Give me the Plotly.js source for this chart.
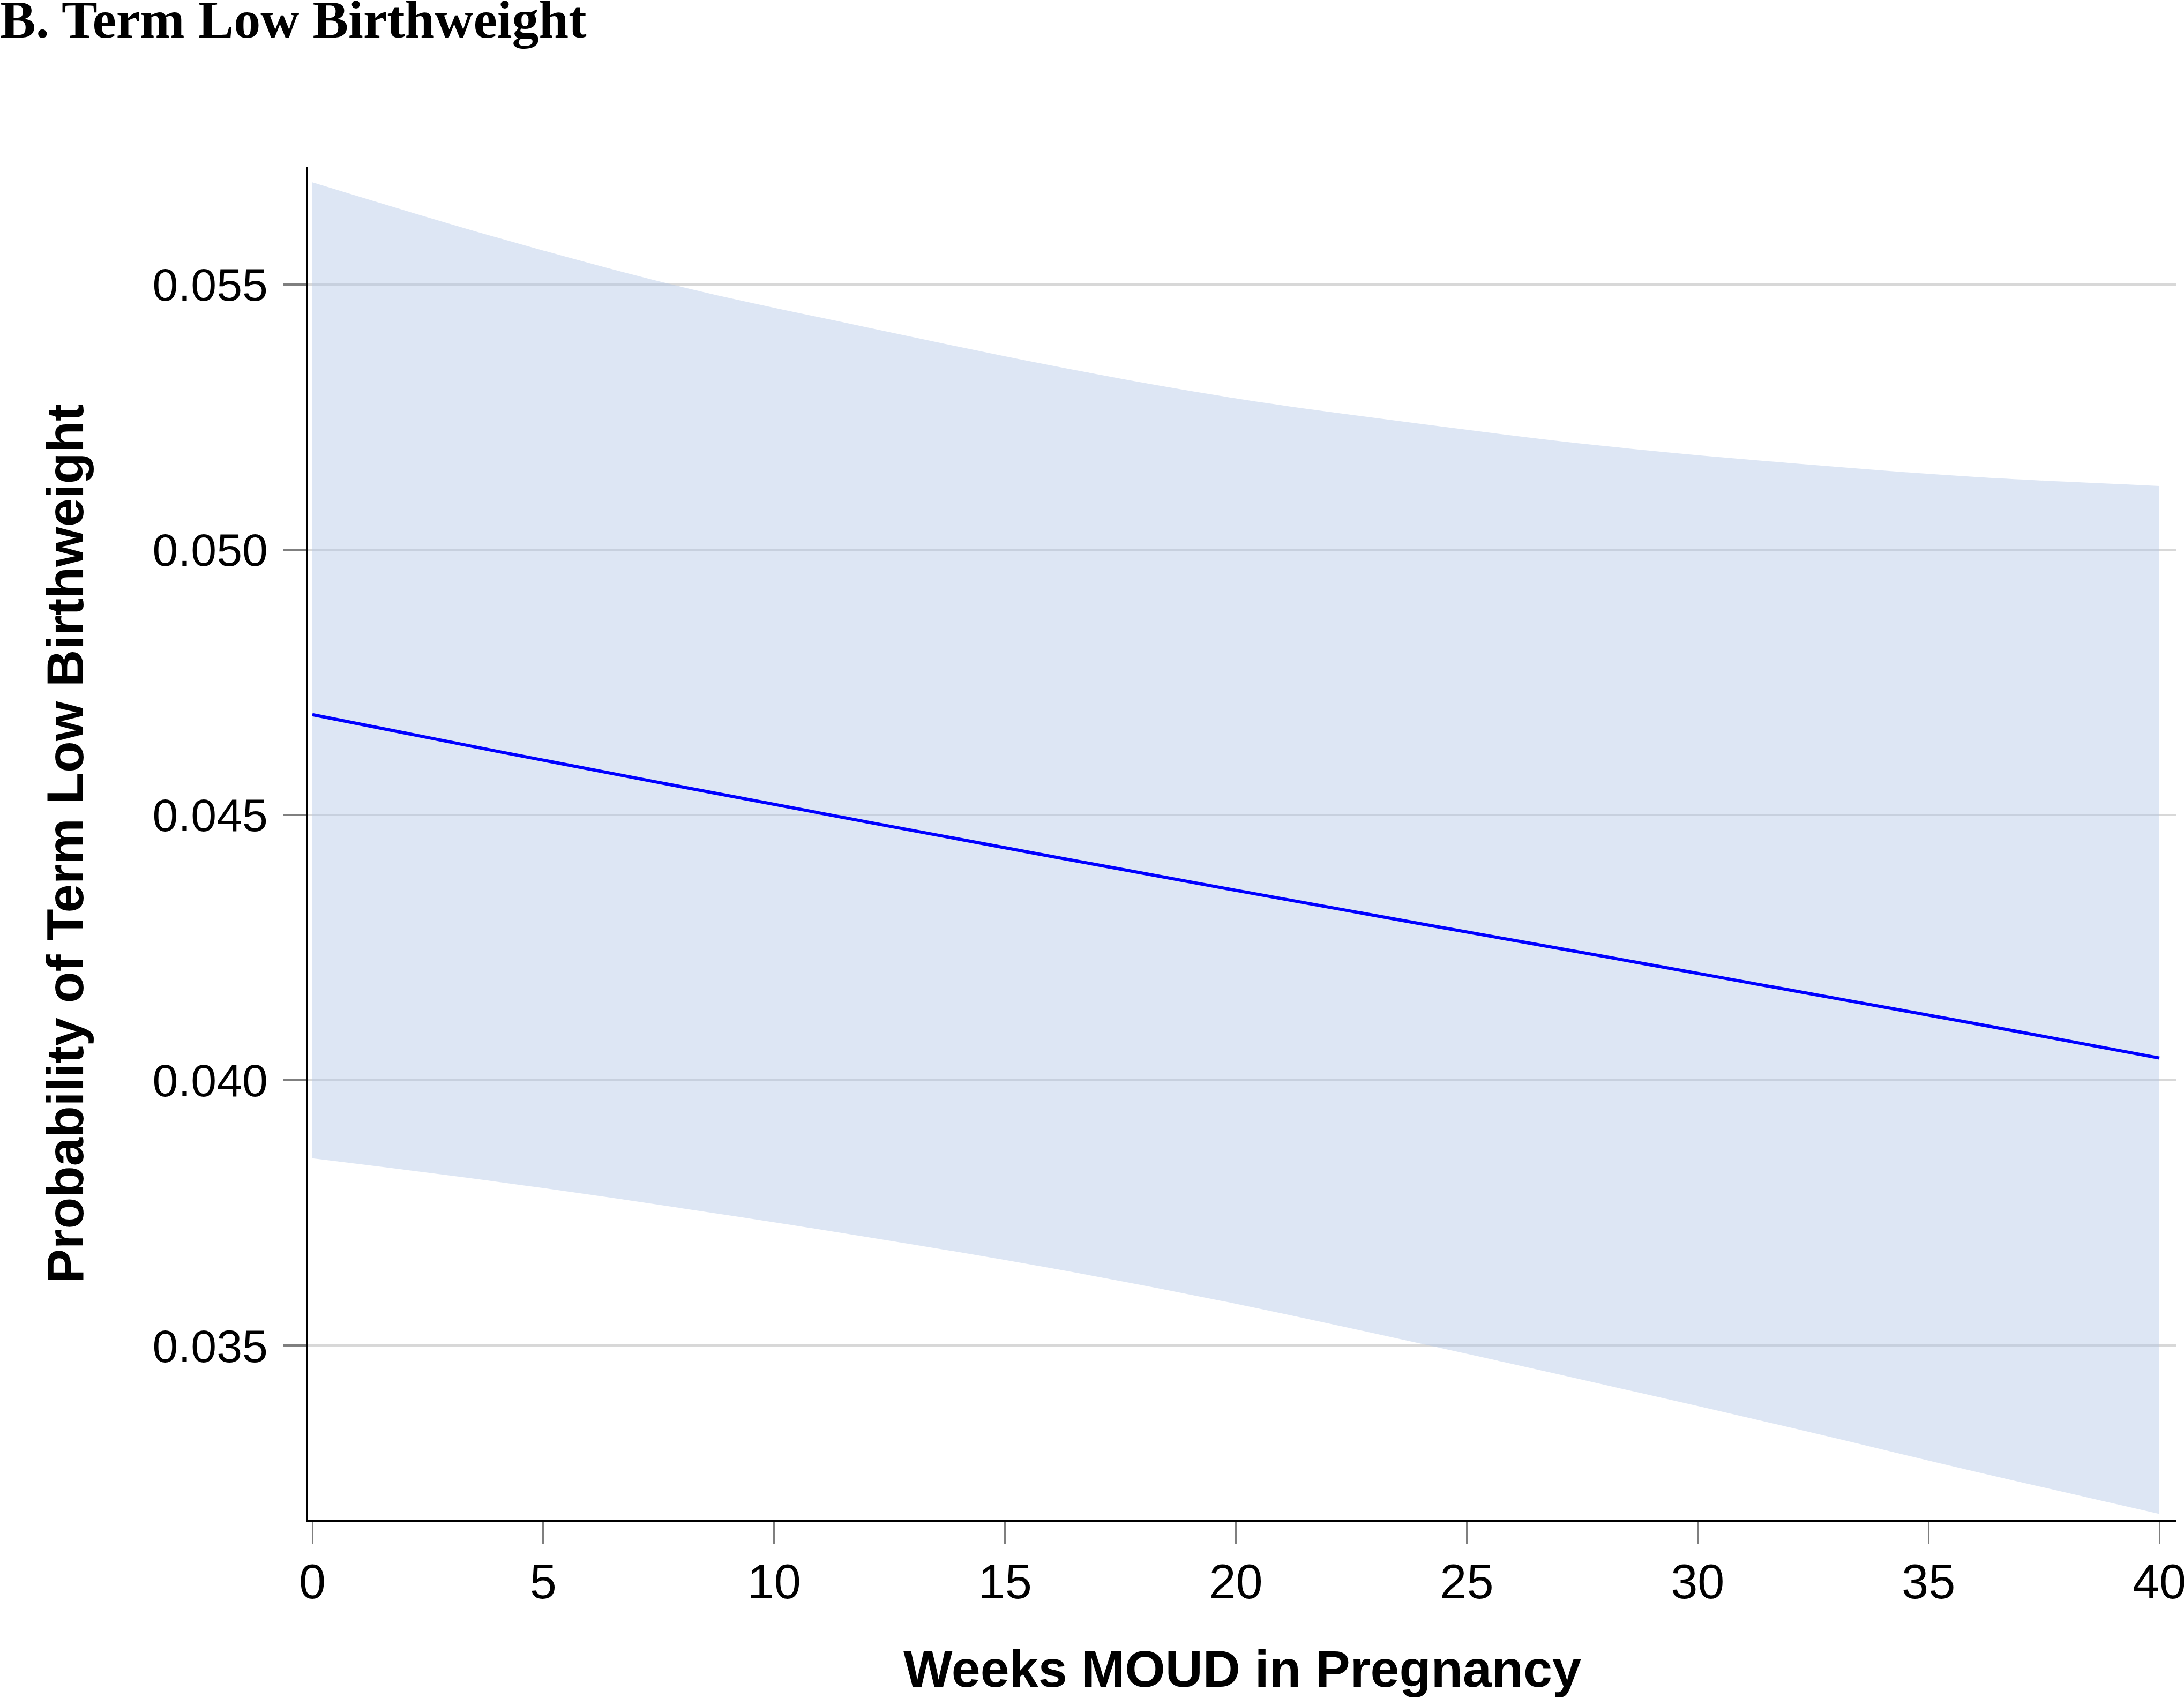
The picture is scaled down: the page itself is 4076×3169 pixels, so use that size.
<!DOCTYPE html>
<html>
<head>
<meta charset="utf-8">
<script src="https://cdn.plot.ly/plotly-3.0.1.min.js"></script>
<style>
  html, body { margin: 0; padding: 0; background: #ffffff; }
  #chart { width: 4076px; height: 3169px; }
</style>
</head>
<body>
<div id="chart"></div>
<script>
// Weeks of MOUD in pregnancy (x) and predicted probability with 95% CI
const weeks      = [0, 4, 8, 12, 16, 20, 24, 28, 32, 36, 40];
const predicted  = [0.04689, 0.04620, 0.04553, 0.04487, 0.04422, 0.04358, 0.04295, 0.04233, 0.04170, 0.04107, 0.04042];
const upperCI    = [0.05692, 0.05588, 0.05495, 0.05419, 0.05347, 0.05285, 0.05237, 0.05195, 0.05163, 0.05137, 0.05120];
const lowerCI    = [0.03853, 0.03809, 0.03759, 0.03705, 0.03646, 0.03579, 0.03504, 0.03426, 0.03346, 0.03263, 0.03183];

const yTicks = [0.035, 0.040, 0.045, 0.050, 0.055];
const yTickLabels = ["0.035", "0.040", "0.045", "0.050", "0.055"];
const xTicks = [0, 5, 10, 15, 20, 25, 30, 35, 40];
const xTickLabels = ["0", "5", "10", "15", "20", "25", "30", "35", "40"];

const sans = "Liberation Sans, Arial, Helvetica, sans-serif";

const traces = [
  {
    x: weeks, y: lowerCI, type: "scatter", mode: "lines",
    line: { width: 0, shape: "spline", color: "rgba(0,0,0,0)" },
    showlegend: false, hoverinfo: "skip"
  },
  {
    x: weeks, y: upperCI, type: "scatter", mode: "lines",
    fill: "tonexty", fillcolor: "rgba(180,200,230,0.45)",
    line: { width: 0, shape: "spline", color: "rgba(0,0,0,0)" },
    showlegend: false, hoverinfo: "skip"
  },
  {
    x: weeks, y: predicted, type: "scatter", mode: "lines",
    line: { width: 6, color: "#0000FF", shape: "spline" },
    showlegend: false
  }
];

const layout = {
  width: 4076, height: 3169,
  paper_bgcolor: "#ffffff", plot_bgcolor: "#ffffff",
  margin: { l: 575, r: 14, t: 312, b: 332, pad: 0 },
  showlegend: false,
  title: {
    text: "<b>B. Term Low Birthweight</b>",
    font: { family: "Liberation Serif, Times New Roman, serif", size: 100, color: "#000000" },
    xref: "container", x: 0, xanchor: "left",
    yref: "container", y: 1, yanchor: "top",
    pad: { t: 0, l: 0, b: 0, r: 0 }
  },
  xaxis: {
    range: [-0.093, 40.371],
    tickvals: xTicks, ticktext: xTickLabels,
    ticks: "outside", ticklen: 40, tickwidth: 3, tickcolor: "#7f7f7f",
    showline: true, linecolor: "#000000", linewidth: 4,
    showgrid: false, zeroline: false,
    tickfont: { family: sans, size: 90, color: "#000000" },
    ticklabelstandoff: -6,
    ticklabeloverflow: "allow",
    title: {
      text: "<b>Weeks MOUD in Pregnancy</b>",
      font: { family: sans, size: 97, color: "#000000" },
      standoff: 96
    }
  },
  yaxis: {
    range: [0.031713, 0.057206],
    tickvals: yTicks, ticktext: yTickLabels,
    ticks: "outside", ticklen: 43, tickwidth: 4, tickcolor: "#7f7f7f",
    showline: true, linecolor: "#000000", linewidth: 3,
    showgrid: true, gridcolor: "#d8d8d8", gridwidth: 4,
    zeroline: false,
    tickfont: { family: sans, size: 86, color: "#000000" },
    ticklabelstandoff: 12,
    title: {
      text: "<b>Probability of Term Low Birthweight</b>",
      font: { family: sans, size: 96, color: "#000000" },
      standoff: 97
    }
  }
};

Plotly.newPlot("chart", traces, layout, { staticPlot: true, displayModeBar: false });
</script>
</body>
</html>
